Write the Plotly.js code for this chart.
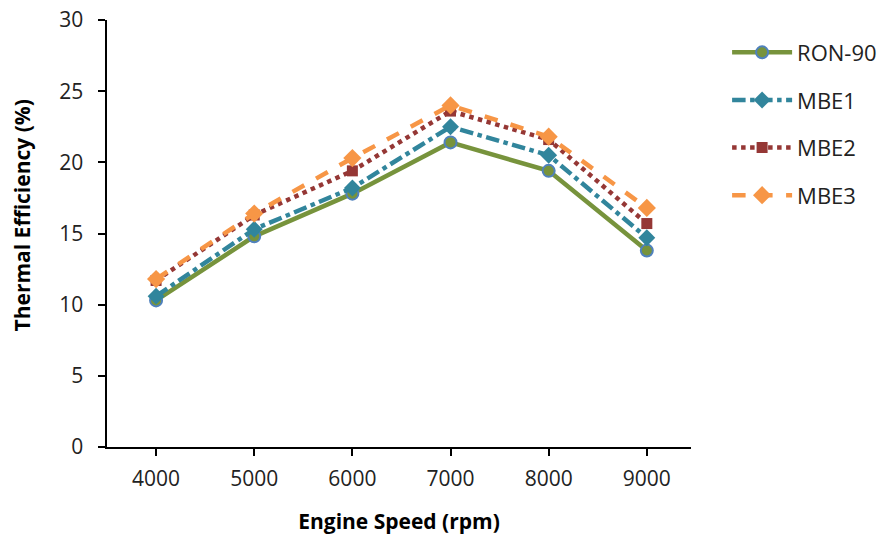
<!DOCTYPE html>
<html>
<head>
<meta charset="utf-8">
<script src="https://cdn.plot.ly/plotly-3.0.1.min.js"></script>
<style>body{margin:0;padding:0;background:#fff;} #chart{width:893px;height:535px;}</style>
</head>
<body>
<div id="chart"></div>
<script>
const speeds = ["4000", "5000", "6000", "7000", "8000", "9000"];
const ron90 = [10.3, 14.8, 17.8, 21.4, 19.4, 13.8];
const mbe1 = [10.6, 15.3, 18.2, 22.5, 20.5, 14.7];
const mbe2 = [11.7, 16.3, 19.4, 23.6, 21.6, 15.7];
const mbe3 = [11.8, 16.4, 20.3, 24.0, 21.8, 16.8];
const yTicks = [0, 5, 10, 15, 20, 25, 30];

const font = "Open Sans, Liberation Sans, sans-serif";
const traces = [
  {name: "RON-90", y: ron90, line: {color: "#77933C", width: 4.5, dash: "solid"},
   marker: {symbol: "circle", size: 12, color: "#77933C", line: {color: "#4F81BD", width: 2}}},
  {name: "MBE1", y: mbe1, line: {color: "#31859C", width: 4.5, dash: "dashdot"},
   marker: {symbol: "diamond", size: 13, color: "#31859C", line: {width: 0}}},
  {name: "MBE2", y: mbe2, line: {color: "#953735", width: 4.5, dash: "dot"},
   marker: {symbol: "square", size: 11, color: "#953735", line: {width: 0}}},
  {name: "MBE3", y: mbe3, line: {color: "#F79646", width: 4.5, dash: "dash"},
   marker: {symbol: "diamond", size: 14, color: "#F79646", line: {width: 0}}}
].map((t, i) => Object.assign({x: speeds, type: "scatter", mode: "lines+markers", legendgroup: "g" + i}, t));

const layout = {
  width: 893, height: 535,
  margin: {l: 107, r: 201, t: 20, b: 88},
  paper_bgcolor: "#fff", plot_bgcolor: "#fff",
  font: {family: font, size: 21, color: "#222"},
  xaxis: {
    type: "category", range: [-0.5, 5.45],
    showline: true, linecolor: "#000", linewidth: 2,
    ticks: "outside", ticklen: 7, tickwidth: 2, tickcolor: "#000",
    ticklabelstandoff: 5,
    showgrid: false, zeroline: false,
    tickfont: {size: 21, family: font, color: "#222"},
    title: {text: "Engine Speed (rpm)", font: {size: 21, family: font, color: "#000", weight: "bold"}, standoff: 24}
  },
  yaxis: {
    range: [0, 30], tickvals: yTicks, ticktext: yTicks.map(v => v + "\u2002"),
    showline: true, linecolor: "#000", linewidth: 2,
    ticks: "outside", ticklen: 7, tickwidth: 2, tickcolor: "#000",
    showgrid: false, zeroline: false,
    tickfont: {size: 21, family: font, color: "#222"}
  },
  annotations: [{
    text: "Thermal Efficiency (%)", textangle: -90, showarrow: false,
    xref: "paper", yref: "paper", x: -0.145, y: 0.543, xanchor: "center", yanchor: "middle",
    font: {size: 21, family: font, color: "#000", weight: "bold"}
  }],
  legend: {
    x: 1.06, y: 0.973, xanchor: "left", yanchor: "top",
    font: {size: 22, family: font, color: "#222"},
    tracegroupgap: 16, itemwidth: 60
  },
  showlegend: true
};

Plotly.newPlot("chart", traces, layout, {displayModeBar: false, staticPlot: true});
</script>
</body>
</html>
